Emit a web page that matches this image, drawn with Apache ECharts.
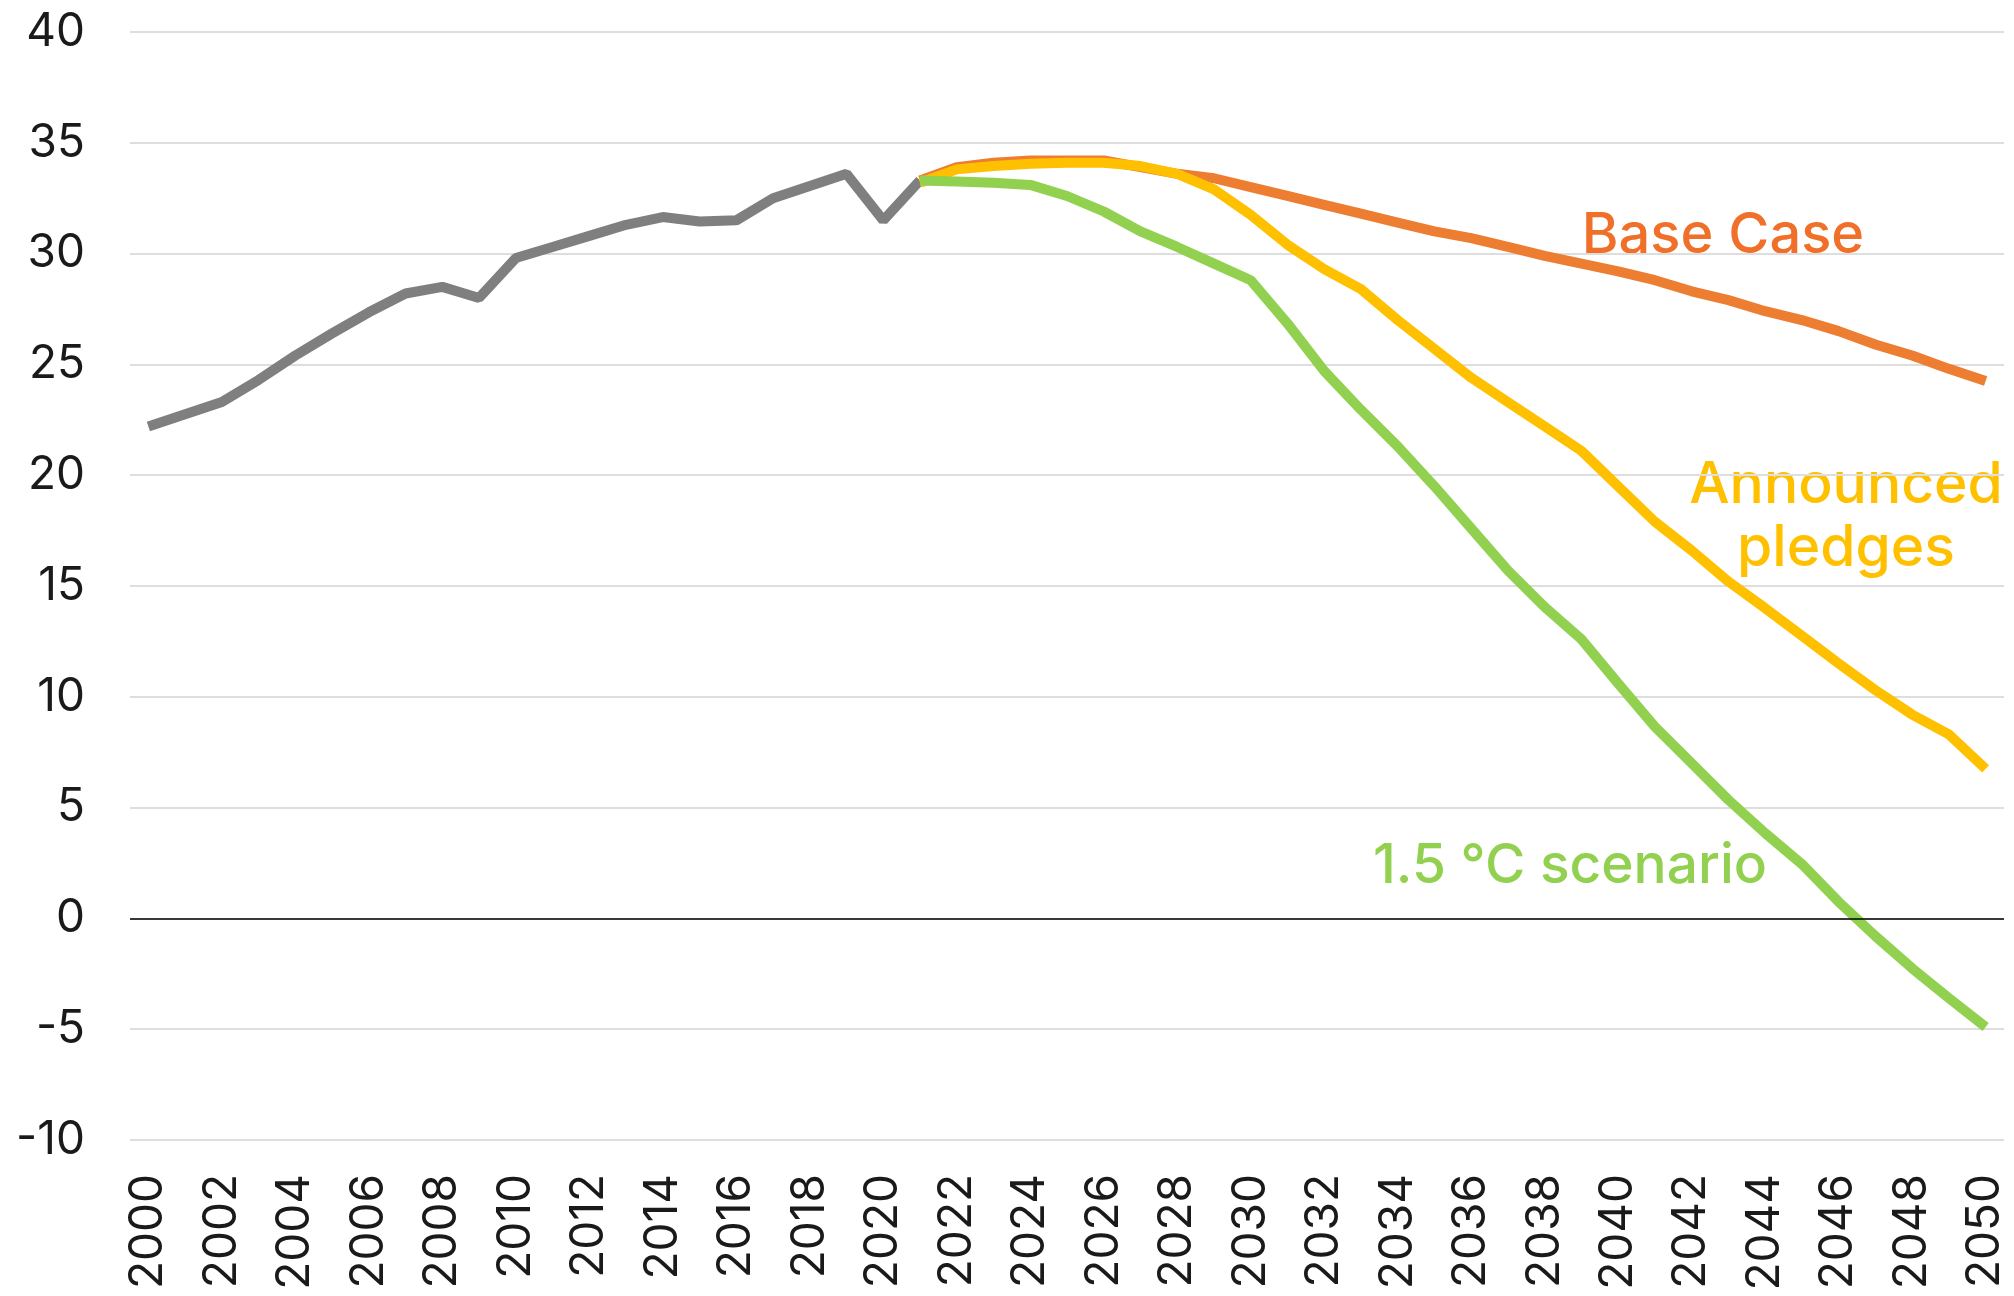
<!DOCTYPE html>
<html>
<head>
<meta charset="utf-8">
<script src="https://cdn.jsdelivr.net/npm/echarts@6/dist/echarts.min.js"></script>
<style>
  html, body { margin: 0; padding: 0; background: #fff; }
  #chart { width: 2014px; height: 1296px; }
</style>
</head>
<body>
<div id="chart"></div>
<script>
  var years = ['2000','2001','2002','2003','2004','2005','2006','2007','2008','2009',
    '2010','2011','2012','2013','2014','2015','2016','2017','2018','2019',
    '2020','2021','2022','2023','2024','2025','2026','2027','2028','2029',
    '2030','2031','2032','2033','2034','2035','2036','2037','2038','2039',
    '2040','2041','2042','2043','2044','2045','2046','2047','2048','2049','2050'];

  // 2000 - 2021
  var historical = [22.2, 22.75, 23.3, 24.3, 25.4, 26.4, 27.35, 28.2, 28.5, 28.0,
    29.8, 30.3, 30.8, 31.3, 31.65, 31.45, 31.5, 32.5, 33.05, 33.6, 31.5, 33.3];

  // 2021 - 2050
  var baseCase = [33.3, 33.9, 34.1, 34.2, 34.2, 34.2, 33.9, 33.6, 33.4, 33.0,
    32.6, 32.2, 31.8, 31.4, 31.0, 30.7, 30.3, 29.9, 29.55, 29.2,
    28.8, 28.3, 27.9, 27.4, 27.0, 26.5, 25.9, 25.4, 24.8, 24.25];
  var pledges = [33.2, 33.8, 33.95, 34.05, 34.1, 34.1, 33.95, 33.6, 32.9, 31.75,
    30.4, 29.3, 28.4, 27.0, 25.7, 24.4, 23.3, 22.2, 21.1, 19.5,
    17.9, 16.6, 15.2, 14.0, 12.75, 11.5, 10.3, 9.2, 8.3, 6.75];
  var scenario15 = [33.3, 33.25, 33.2, 33.1, 32.6, 31.9, 31.0, 30.3, 29.55, 28.8,
    26.85, 24.7, 22.95, 21.3, 19.5, 17.6, 15.7, 14.05, 12.6, 10.6,
    8.65, 7.0, 5.35, 3.85, 2.45, 0.75, -0.8, -2.25, -3.6, -4.9];

  function padLeft(arr) {
    return new Array(years.length - arr.length).fill(null).concat(arr);
  }
  var histData = historical.concat(new Array(years.length - historical.length).fill(null));

  var font = 'Inter, "Noto Sans", sans-serif';
  var myChart = echarts.init(document.getElementById('chart'));
  myChart.setOption({
    animation: false,
    backgroundColor: '#fff',
    grid: { left: 130, right: 10, top: 32, bottom: 156, containLabel: false },
    xAxis: {
      type: 'category',
      data: years,
      boundaryGap: true,
      axisLine: { show: false },
      axisTick: { show: false },
      axisLabel: {
        rotate: 90,
        interval: 1,
        margin: 34,
        fontSize: 46,
        fontFamily: font,
        color: '#1a1a1a'
      }
    },
    yAxis: {
      type: 'value',
      min: -10,
      max: 40,
      interval: 5,
      axisLine: { show: false },
      axisTick: { show: false },
      axisLabel: { margin: 45, fontSize: 46, fontFamily: font, color: '#1a1a1a' },
      splitLine: { lineStyle: { color: '#DEDEDE', width: 2 } }
    },
    series: [
      {
        name: 'History', type: 'line', data: histData, symbol: 'none',
        lineStyle: { color: '#7F7F7F', width: 10 },
        markLine: {
          silent: true, symbol: ['none', 'none'], label: { show: false },
          lineStyle: { color: '#000', width: 1.5, type: 'solid' },
          data: [{ yAxis: 0 }]
        }
      },
      { name: 'Base Case', type: 'line', data: padLeft(baseCase), symbol: 'none',
        lineStyle: { color: '#ED7D31', width: 10 } },
      { name: 'Announced pledges', type: 'line', data: padLeft(pledges), symbol: 'none',
        lineStyle: { color: '#FFC000', width: 10 } },
      { name: '1.5 °C scenario', type: 'line', data: padLeft(scenario15), symbol: 'none',
        lineStyle: { color: '#92D050', width: 10 } }
    ],
    graphic: [
      { type: 'text', style: { text: 'Base Case', x: 1723, y: 236, textAlign: 'center', textVerticalAlign: 'middle',
        font: '500 56px ' + font, fill: '#F0702A' } },
      { type: 'text', style: { text: 'Announced', x: 1846, y: 486, textAlign: 'center', textVerticalAlign: 'middle',
        font: '500 57px ' + font, fill: '#FFC000' } },
      { type: 'text', style: { text: 'pledges', x: 1846, y: 549, textAlign: 'center', textVerticalAlign: 'middle',
        font: '500 57px ' + font, fill: '#FFC000' } },
      { type: 'text', style: { text: '1.5 °C scenario', x: 1570, y: 866, textAlign: 'center', textVerticalAlign: 'middle',
        font: '500 55px ' + font, fill: '#92D050' } }
    ]
  });
</script>
</body>
</html>
